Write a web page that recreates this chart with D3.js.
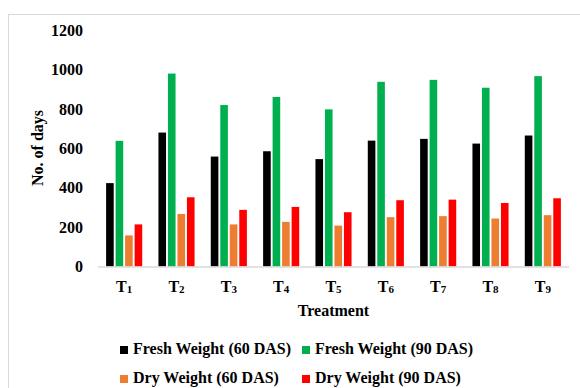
<!DOCTYPE html>
<html><head><meta charset="utf-8">
<script src="https://cdn.jsdelivr.net/npm/d3@7/dist/d3.min.js"></script>
<style>
html,body{margin:0;padding:0;background:#fff;}
svg{display:block;}
svg text{font-family:"Liberation Serif","Times New Roman",Tinos,"Nimbus Roman","DejaVu Serif",serif;font-weight:bold;}
</style></head>
<body>
<svg id="chart" width="580" height="388"></svg>
<script>
const categories = ["1","2","3","4","5","6","7","8","9"];
const seriesNames = ["Fresh Weight (60 DAS)","Fresh Weight (90 DAS)","Dry Weight (60 DAS)","Dry Weight (90 DAS)"];
const freshWeight60 = [424, 681, 559, 586, 546, 640, 649, 625, 666];
const freshWeight90 = [639, 981, 821, 862, 799, 939, 949, 909, 968];
const dryWeight60  = [158, 267, 214, 227, 208, 251, 256, 244, 261];
const dryWeight90  = [214, 352, 288, 303, 276, 337, 340, 323, 347];
const yTicks = [0, 200, 400, 600, 800, 1000, 1200];
const colors = ["#000000", "#00b050", "#ed7d31", "#ff0000"];

const seriesValues = [freshWeight60, freshWeight90, dryWeight60, dryWeight90];
const svg = d3.select("#chart");

// outer frame
svg.append("rect").attr("x", 8.5).attr("y", 14.5).attr("width", 620).attr("height", 420)
  .attr("fill", "none").attr("stroke", "#d9d9d9").attr("stroke-width", 1);

const x0 = d3.scaleBand().domain(categories).range([98, 569]).paddingInner(0.31).paddingOuter(0.155);
const x1 = d3.scaleBand().domain(d3.range(4)).range([0, x0.bandwidth()]).paddingInner(0.2);
const y = d3.scaleLinear().domain([0, 1200]).range([266.5, 30.5]);

// y tick labels
const yAxis = svg.append("g").attr("transform", "translate(89,0)")
  .call(d3.axisLeft(y).tickValues(yTicks).tickFormat(d3.format("d")).tickSize(0).tickPadding(6));
yAxis.attr("font-family", null).attr("font-size", null);
yAxis.select(".domain").remove();
yAxis.selectAll("text").attr("font-size", "16px").attr("fill", "#000");

// bars
const groups = svg.append("g").selectAll("g").data(categories).join("g")
  .attr("transform", d => `translate(${x0(d)},0)`);
groups.selectAll("rect").data((d, i) => seriesValues.map((s, k) => ({k, v: s[i]}))).join("rect")
  .attr("x", d => x1(d.k)).attr("width", x1.bandwidth())
  .attr("y", d => y(d.v)).attr("height", d => y(0) - y(d.v))
  .attr("fill", d => colors[d.k]);

// x axis line
svg.append("line").attr("x1", 98).attr("x2", 569).attr("y1", y(0) + 0.5).attr("y2", y(0) + 0.5)
  .attr("stroke", "#d9d9d9").attr("stroke-width", 1.5);

// x tick labels with subscript
const xl = svg.append("g").selectAll("text").data(categories).join("text")
  .attr("x", d => x0(d) + x0.bandwidth() / 2).attr("y", 292)
  .attr("text-anchor", "middle").attr("font-size", "16px").attr("fill", "#000");
xl.append("tspan").text("T");
xl.append("tspan").attr("font-size", "11px").attr("dy", 1).text(d => d);

// axis titles
svg.append("text").attr("x", 333.5).attr("y", 316).attr("text-anchor", "middle")
  .attr("font-size", "16px").attr("fill", "#000").text("Treatment");
svg.append("text").attr("transform", "translate(43,148) rotate(-90)").attr("text-anchor", "middle")
  .attr("font-size", "16px").attr("fill", "#000").text("No. of days");

// legend
const legendPos = [[120, 354], [302, 354], [120, 383], [302, 383]];
const lg = svg.append("g").selectAll("g").data(seriesNames).join("g")
  .attr("transform", (d, i) => `translate(${legendPos[i][0]},${legendPos[i][1]})`);
lg.append("rect").attr("x", 0).attr("y", -8).attr("width", 8).attr("height", 8).attr("fill", (d, i) => colors[i]);
lg.append("text").attr("x", 13).attr("y", 0).attr("font-size", "16px").attr("fill", "#000").text(d => d);
</script>
</body></html>
